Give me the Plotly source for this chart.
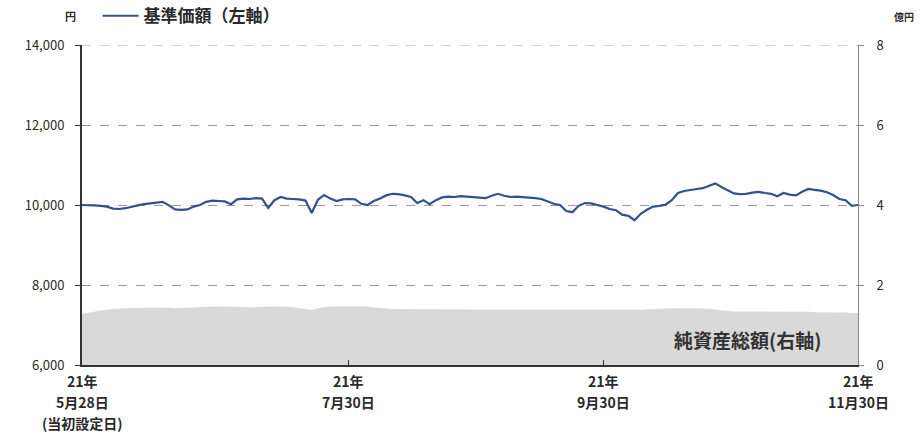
import pandas as pd
import plotly.graph_objects as go

# Japanese business days (TSE calendar) from 2021-05-28 to 2021-11-30
holidays = ["2021-07-22", "2021-07-23", "2021-08-09", "2021-09-20",
            "2021-09-23", "2021-11-03", "2021-11-23"]
dates = [d.strftime("%Y-%m-%d") for d in
         pd.bdate_range("2021-05-28", "2021-11-30", freq="C", holidays=holidays)]

# 基準価額 (円) — left axis
nav = [10000, 10000, 9990, 9980, 9960, 9910, 9900, 9920, 9960, 9990,
       10020, 10040, 10060, 10080, 9990, 9890, 9880, 9890, 9960, 10000,
       10080, 10110, 10100, 10090, 10020, 10140, 10160, 10150, 10170, 10160,
       9930, 10120, 10200, 10160, 10150, 10140, 10110, 9800, 10130, 10250,
       10160, 10100, 10140, 10150, 10140, 10030, 10000, 10100, 10160, 10240,
       10280, 10270, 10240, 10200, 10050, 10120, 10020, 10120, 10190, 10210,
       10200, 10220, 10210, 10200, 10190, 10170, 10230, 10280, 10230, 10200,
       10210, 10200, 10180, 10170, 10150, 10090, 10030, 10000, 9850, 9820,
       9980, 10050, 10040, 10000, 9960, 9900, 9870, 9760, 9730, 9620,
       9780, 9880, 9960, 9980, 10010, 10120, 10300, 10350, 10380, 10400,
       10420, 10480, 10540, 10450, 10360, 10290, 10270, 10280, 10310, 10330,
       10300, 10280, 10220, 10300, 10260, 10240, 10330, 10400, 10380, 10360,
       10320, 10250, 10150, 10120, 9980, 10000]

# 純資産総額 (億円) — right axis
aum = [1.28, 1.30, 1.33, 1.36, 1.38, 1.40, 1.41, 1.42, 1.42, 1.43,
       1.43, 1.44, 1.44, 1.44, 1.43, 1.42, 1.42, 1.43, 1.44, 1.45,
       1.45, 1.46, 1.46, 1.46, 1.46, 1.46, 1.45, 1.44, 1.45, 1.46,
       1.46, 1.46, 1.46, 1.46, 1.45, 1.42, 1.40, 1.38, 1.42, 1.45,
       1.46, 1.46, 1.45, 1.45, 1.46, 1.46, 1.46, 1.44, 1.42, 1.41,
       1.40, 1.40, 1.40, 1.40, 1.40, 1.40, 1.40, 1.40, 1.40, 1.40,
       1.40, 1.40, 1.39, 1.39, 1.39, 1.39, 1.38, 1.38, 1.38, 1.38,
       1.38, 1.38, 1.38, 1.38, 1.38, 1.38, 1.37, 1.37, 1.37, 1.37,
       1.37, 1.37, 1.37, 1.37, 1.37, 1.37, 1.37, 1.37, 1.37, 1.38,
       1.38, 1.39, 1.40, 1.41, 1.41, 1.42, 1.42, 1.42, 1.42, 1.42,
       1.41, 1.40, 1.38, 1.36, 1.35, 1.34, 1.34, 1.34, 1.34, 1.33,
       1.33, 1.33, 1.33, 1.33, 1.33, 1.33, 1.33, 1.33, 1.32, 1.32,
       1.32, 1.32, 1.31, 1.31, 1.30, 1.30]

tick_dates = ["2021-05-28", "2021-07-30", "2021-09-30", "2021-11-30"]
tick_lines = [["21年", "5月28日", "(当初設定日)"],
              ["21年", "7月30日"],
              ["21年", "9月30日"],
              ["21年", "11月30日"]]
left_ticks = [6000, 8000, 10000, 12000, 14000]
right_ticks = [0, 2, 4, 6, 8]

FONT = "Noto Sans CJK JP"
TXT = "#2a2a2a"

fig = go.Figure()
fig.add_trace(go.Scatter(
    x=dates, y=nav, mode="lines", name="<b>基準価額（左軸）</b>",
    line=dict(color="#34508f", width=2.2), yaxis="y"))
fig.add_trace(go.Scatter(
    x=dates, y=aum, mode="lines", name="純資産総額(右軸)",
    line=dict(color="#d9d9d9", width=0), fill="tozeroy",
    fillcolor="#d9d9d9", yaxis="y2", showlegend=False))

fig.update_layout(
    width=920, height=434,
    margin=dict(l=82, r=62, t=45, b=69, autoexpand=False),
    paper_bgcolor="white", plot_bgcolor="white",
    font=dict(family=FONT, size=12, color=TXT),
    showlegend=True,
    legend=dict(orientation="h", x=0.02, y=1.09, xanchor="left",
                yanchor="middle", bgcolor="rgba(0,0,0,0)",
                font=dict(size=17, color=TXT), itemwidth=36),
    xaxis=dict(type="category", range=[0, len(dates) - 1],
               tickmode="array", tickvals=tick_dates,
               showticklabels=False,
               ticks="inside", ticklen=5, tickcolor="#333",
               showline=True, linecolor="#333", linewidth=2,
               showgrid=False),
    yaxis=dict(range=[6000, 14000], tickvals=left_ticks, tickformat=",d",
               ticks="outside", ticklen=5, tickcolor="#333",
               showline=True, linecolor="#333", linewidth=2,
               showgrid=True, gridcolor="#999999", griddash="dash",
               gridwidth=1, zeroline=False, ticklabelstandoff=8,
               tickfont=dict(size=13, color=TXT)),
    yaxis2=dict(range=[0, 8], tickvals=right_ticks, overlaying="y",
                side="right", ticks="outside", ticklen=5, tickcolor="#888",
                showline=True, linecolor="#888", linewidth=1,
                showgrid=False, zeroline=False, ticklabelstandoff=10,
                tickfont=dict(size=13, color=TXT)),
)

# x tick labels, one annotation per line for the wider line spacing
for d, lines in zip(tick_dates, tick_lines):
    for k, s in enumerate(lines):
        fig.add_annotation(text=f"<b>{s}</b>", xref="x", yref="paper",
                           x=d, y=0, yanchor="middle", xanchor="center",
                           yshift=-(16 + 21 * k), showarrow=False,
                           font=dict(size=14, color=TXT))

# dashed top gridline at 14,000 (drawn at the plot edge)
fig.add_shape(type="line", xref="paper", yref="y", x0=0, x1=1,
              y0=14000, y1=14000, line=dict(color="#999999", width=1,
                                            dash="dash"))

fig.add_annotation(text="<b>円</b>", xref="paper", yref="paper", x=-0.005, y=1.09,
                   xanchor="right", yanchor="middle", showarrow=False,
                   font=dict(size=11, color=TXT))
fig.add_annotation(text="<b>億円</b>", xref="paper", yref="paper", x=1.075, y=1.09,
                   xanchor="right", yanchor="middle", showarrow=False,
                   font=dict(size=10, color=TXT))
fig.add_annotation(text="<b>純資産総額(右軸)</b>", xref="paper", yref="paper",
                   x=0.955, y=0.08, xanchor="right", yanchor="middle",
                   showarrow=False, font=dict(size=19, color="#333"))

fig.write_html("out.html")
